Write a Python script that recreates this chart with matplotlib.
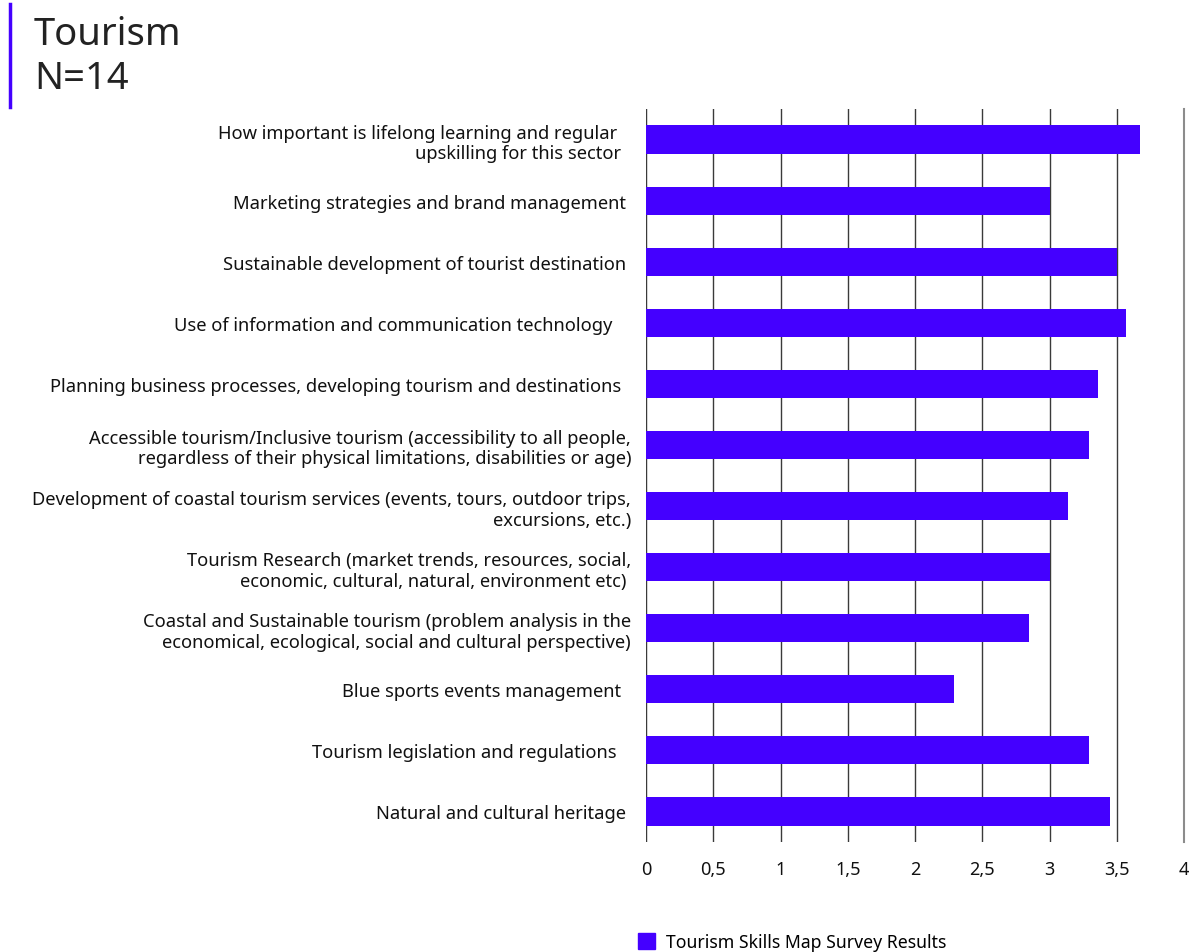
import matplotlib.pyplot as plt
from matplotlib.patches import Patch
from matplotlib.ticker import FuncFormatter

# survey categories, top to bottom (trailing spaces kept as in the source labels)
categories = [
    "How important is lifelong learning and regular   \nupskilling for this sector  ",
    "Marketing strategies and brand management ",
    "Sustainable development of tourist destination ",
    "Use of information and communication technology    ",
    "Planning business processes, developing tourism and destinations  ",
    "Accessible tourism/Inclusive tourism (accessibility to all people,\nregardless of their physical limitations, disabilities or age)",
    "Development of coastal tourism services (events, tours, outdoor trips,\nexcursions, etc.)",
    "Tourism Research (market trends, resources, social,\neconomic, cultural, natural, environment etc) ",
    "Coastal and Sustainable tourism (problem analysis in the\neconomical, ecological, social and cultural perspective)",
    "Blue sports events management  ",
    "Tourism legislation and regulations   ",
    "Natural and cultural heritage ",
]
scores = [3.67, 3.00, 3.50, 3.57, 3.36, 3.29, 3.14, 3.00, 2.85, 2.29, 3.29, 3.45]
x_ticks = [0, 0.5, 1, 1.5, 2, 2.5, 3, 3.5, 4]
series_name = "Tourism Skills Map Survey Results"

bar_color = "#4400ff"
plt.rcParams['font.family'] = ['Noto Sans', 'DejaVu Sans']

fig = plt.figure(figsize=(11.91, 9.53), dpi=100)
ax = fig.add_axes([646 / 1191, 1 - 843 / 953, 538 / 1191, (843 - 110) / 953])

ypos = list(range(len(categories)))
ax.barh(ypos, scores, height=0.46, color=bar_color, zorder=3)
ax.set_ylim(len(categories) - 0.5, -0.5)
ax.set_xlim(0, 4)

ax.set_yticks(ypos)
ax.set_yticklabels(categories, fontsize=13.2, color="#111111", linespacing=1.18)
ax.tick_params(axis='y', length=0, pad=10.8)

ax.set_xticks(x_ticks)
ax.xaxis.set_major_formatter(FuncFormatter(lambda v, p: f"{v:g}".replace(".", ",")))
ax.tick_params(axis='x', length=0, pad=13, labelsize=13, colors="#111111")

ax.grid(axis='x', color="#3a3a3a", linewidth=1.0, zorder=0)
for s in ["top", "bottom", "left"]:
    ax.spines[s].set_visible(False)
ax.spines["right"].set_color("#8c8c8c")
ax.spines["right"].set_linewidth(1.5)
ax.axvline(0, color="#8c8c8c", linewidth=1.5, zorder=1)

# title block with accent bar
fig.text(34 / 1191, 1 - 16 / 953, "Tourism\nN=14", fontsize=27.5, color="#222222",
         va="top", ha="left", linespacing=1.2)
fig.add_artist(plt.Line2D([9.5 / 1191, 9.5 / 1191], [1 - 5 / 953, 1 - 108 / 953],
                          color=bar_color, linewidth=2.5))

fig.legend(handles=[Patch(color=bar_color, label=series_name)],
           loc="center", bbox_to_anchor=(792 / 1191, 1 - 943 / 953),
           frameon=False, fontsize=12.7, handlelength=1.0, handleheight=1.0,
           handletextpad=0.6)

fig.savefig("out.png", dpi=100)
